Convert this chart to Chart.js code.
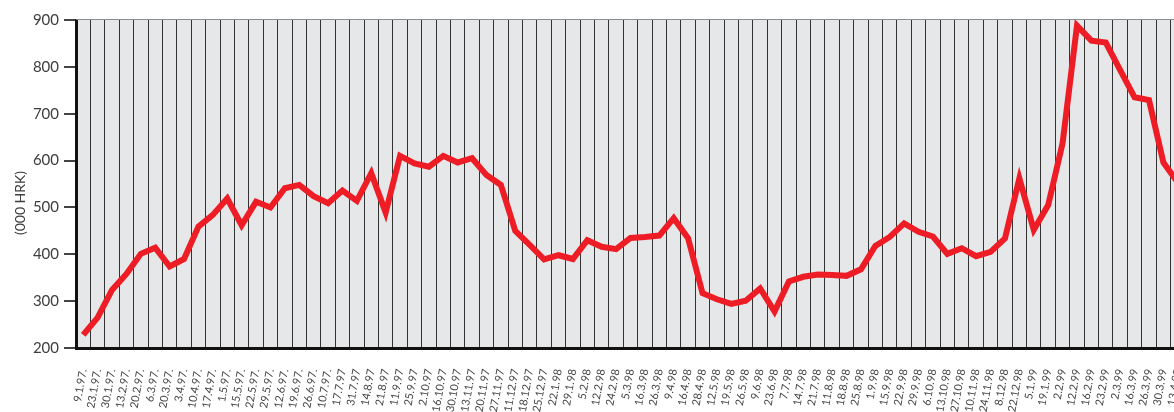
<!DOCTYPE html>
<html>
<head>
  <meta charset="UTF-8" />
  <title>(000 HRK)</title>
  <style>
    html, body { margin:0; padding:0; background:#fff; overflow:hidden; }
    #wrap { width:1186px; height:412px; }
  </style>
  <script src="https://cdn.jsdelivr.net/npm/chart.js"></script>
</head>
<body>
  <div id="wrap"><canvas id="chart" width="1186" height="412"></canvas></div>

  <script>
    const dates = [
      '9.1.97.', '23.1.97.', '30.1.97.', '13.2.97.', '20.2.97.', '6.3.97.', '20.3.97.', '3.4.97.',
      '10.4.97.', '17.4.97.', '1.5.97.', '15.5.97.', '22.5.97.', '29.5.97.', '12.6.97.', '19.6.97.',
      '26.6.97.', '10.7.97.', '17.7.97', '31.7.97', '14.8.97', '21.8.97', '11.9.97', '25.9.97',
      '2.10.97', '16.10.97', '30.10.97', '13.11.97', '20.11.97', '27.11.97', '11.12.97', '18.12.97',
      '25.12.97', '22.1.98', '29.1.98', '5.2.98', '12.2.98', '24.2.98', '5.3.98', '16.3.98',
      '26.3.98', '9.4.98', '16.4.98', '28.4.98', '12.5.98', '19.5.98', '26.5.98', '9.6.98',
      '23.6.98', '7.7.98', '14.7.98', '21.7.98', '11.8.98', '18.8.98', '25.8.98', '1.9.98',
      '15.9.98', '22.9.98', '29.9.98', '6.10.98', '13.10.98', '27.10.98', '10.11.98', '24.11.98',
      '8.12.98', '22.12.98', '5.1.99', '19.1.99', '2.2.99', '12.2.99', '16.2.99', '23.2.99',
      '2.3.99', '16.3.99', '26.3.99', '30.3.99', '13.4.99'
    ];

    const values = [
      228, 265, 324, 358, 401, 414, 374, 390,
      459, 484, 519, 462, 512, 500, 541, 548,
      524, 509, 536, 514, 573, 489, 610, 594,
      587, 610, 596, 605, 569, 548, 450, 420,
      389, 398, 390, 430, 416, 411, 435, 437,
      440, 477, 434, 317, 304, 294, 301, 327,
      278, 342, 352, 357, 356, 354, 368, 418,
      437, 466, 448, 438, 401, 413, 396, 405,
      434, 562, 452, 505, 637, 888, 856, 852,
      793, 735, 729, 596, 553
    ];

    const yMin = 200, yMax = 900, yStep = 100;
    const yTitle = '(000 HRK)';

    // grey plot area + thin top edge + rotated y title
    const plotDecor = {
      id: 'plotDecor',
      beforeDraw(c) {
        const { ctx, chartArea: a } = c;
        ctx.save();
        ctx.fillStyle = '#e6e7e8';
        ctx.fillRect(a.left, a.top, a.right - a.left, a.bottom - a.top);
        ctx.restore();
      },
      afterDraw(c) {
        const { ctx, chartArea: a } = c;
        ctx.save();
        ctx.strokeStyle = '#8c8c8c';
        ctx.lineWidth = 1;
        ctx.beginPath();
        ctx.moveTo(a.left, a.top - 0.5);
        ctx.lineTo(a.right, a.top - 0.5);
        ctx.stroke();
        ctx.translate(20, 203);
        ctx.rotate(-Math.PI / 2);
        ctx.fillStyle = '#3d3d3d';
        ctx.font = '14px Lato';
        ctx.textAlign = 'center';
        ctx.textBaseline = 'middle';
        ctx.fillText(yTitle, 0, 0);
        ctx.restore();
      }
    };

    new Chart(document.getElementById('chart'), {
      type: 'line',
      data: {
        labels: dates,
        datasets: [{
          data: values,
          borderColor: '#ee1d25',
          borderWidth: 6,
          pointRadius: 0,
          tension: 0,
          fill: false
        }]
      },
      options: {
        responsive: false,
        animation: false,
        layout: { padding: { top: 20, right: 1, left: 0, bottom: 0 } },
        plugins: { legend: { display: false }, tooltip: { enabled: false } },
        scales: {
          x: {
            offset: true,
            grid: { offset: true, color: '#333', lineWidth: 1, drawTicks: false },
            border: { display: true, color: '#111', width: 3 },
            ticks: {
              autoSkip: false,
              minRotation: 80,
              maxRotation: 80,
              padding: 20,
              color: '#444',
              font: { family: 'Lato', size: 11 }
            },
            afterFit(s) {
              s.height = 64;
              s.paddingLeft = 0;
              s.paddingRight = 0;
            }
          },
          y: {
            min: yMin,
            max: yMax,
            grid: { drawOnChartArea: false, drawTicks: true, tickLength: 12, color: '#444', lineWidth: 2 },
            border: { display: true, color: '#111', width: 3 },
            ticks: {
              stepSize: yStep,
              padding: 5,
              color: '#3d3d3d',
              font: { family: 'Lato', size: 15 }
            },
            afterFit(s) { s.width = 76; }
          }
        }
      },
      plugins: [plotDecor]
    });
  </script>
</body>
</html>
